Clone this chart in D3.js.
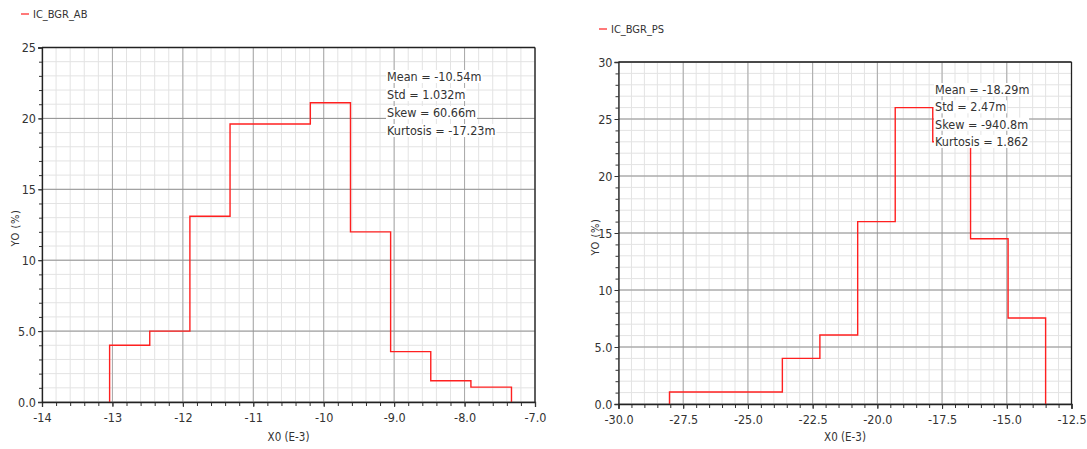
<!DOCTYPE html>
<html><head><meta charset="utf-8">
<script src="https://cdn.jsdelivr.net/npm/d3@7"></script>
<style>
body{margin:0;background:#fff;}
svg text{font-family:"DejaVu Sans Condensed","DejaVu Sans",sans-serif;fill:#333;}
</style></head>
<body><svg id="c" width="1087" height="449"></svg>
<script>
// ---- data ----
const abEdges = [-13.04, -12.47, -11.90, -11.33, -10.76, -10.19, -9.62, -9.05, -8.48, -7.91, -7.334];
const abValues = [4.0, 5.0, 13.1, 19.6, 19.6, 21.1, 12.0, 3.55, 1.5, 1.05];
const abXTicks = [-14, -13, -12, -11, -10, -9, -8, -7];
const abXLabels = ["-14", "-13", "-12", "-11", "-10", "-9.0", "-8.0", "-7.0"];
const abYTicks = [0, 5, 10, 15, 20, 25];
const abYLabels = ["0.0", "5.0", "10", "15", "20", "25"];
const abStats = ["Mean = -10.54m", "Std = 1.032m", "Skew = 60.66m", "Kurtosis = -17.23m"];

const psEdges = [-28.03, -26.58, -25.12, -23.67, -22.22, -20.76, -19.31, -17.86, -16.40, -14.95, -13.50];
const psValues = [1.05, 1.05, 1.05, 4.0, 6.05, 16.0, 26.0, 23.0, 14.5, 7.55];
const psXTicks = [-30, -27.5, -25, -22.5, -20, -17.5, -15, -12.5];
const psXLabels = ["-30.0", "-27.5", "-25.0", "-22.5", "-20.0", "-17.5", "-15.0", "-12.5"];
const psYTicks = [0, 5, 10, 15, 20, 25, 30];
const psYLabels = ["0.0", "5.0", "10", "15", "20", "25", "30"];
const psStats = ["Mean = -18.29m", "Std = 2.47m", "Skew = -940.8m", "Kurtosis = 1.862"];

const svg = d3.select("#c");

function drawChart(cfg) {
  const g = svg.append("g");
  const x = d3.scaleLinear().domain(cfg.xDomain).range([cfg.left, cfg.right]);
  const y = d3.scaleLinear().domain(cfg.yDomain).range([cfg.bottom, cfg.top]);

  // minor grid
  const xMinor = d3.range(cfg.xDomain[0], cfg.xDomain[1] + 1e-9, cfg.xMinorStep);
  const yMinor = d3.range(cfg.yDomain[0], cfg.yDomain[1] + 1e-9, cfg.yMinorStep);
  g.selectAll(".vmin").data(xMinor).join("line")
    .attr("x1", d => x(d)).attr("x2", d => x(d)).attr("y1", cfg.top).attr("y2", cfg.bottom)
    .attr("stroke", "#e3e3e3").attr("stroke-width", 1);
  g.selectAll(".hmin").data(yMinor).join("line")
    .attr("y1", d => y(d)).attr("y2", d => y(d)).attr("x1", cfg.left).attr("x2", cfg.right)
    .attr("stroke", "#e3e3e3").attr("stroke-width", 1);
  // major grid
  g.selectAll(".vmaj").data(cfg.xTicks).join("line")
    .attr("x1", d => x(d)).attr("x2", d => x(d)).attr("y1", cfg.top).attr("y2", cfg.bottom)
    .attr("stroke", "#a8a8a8").attr("stroke-width", 1);
  g.selectAll(".hmaj").data(cfg.yTicks).join("line")
    .attr("y1", d => y(d)).attr("y2", d => y(d)).attr("x1", cfg.left).attr("x2", cfg.right)
    .attr("stroke", "#909090").attr("stroke-width", 1);

  // border top/right
  g.append("line").attr("x1", cfg.left).attr("x2", cfg.right).attr("y1", cfg.top).attr("y2", cfg.top)
    .attr("stroke", "#222").attr("stroke-width", 1.3);
  g.append("line").attr("x1", cfg.right).attr("x2", cfg.right).attr("y1", cfg.top).attr("y2", cfg.bottom)
    .attr("stroke", "#222").attr("stroke-width", 1.3);

  // step line
  const pts = [[cfg.edges[0], 0]];
  cfg.values.forEach((v, i) => { pts.push([cfg.edges[i], v]); pts.push([cfg.edges[i + 1], v]); });
  pts.push([cfg.edges[cfg.edges.length - 1], 0]);
  g.append("path").attr("d", d3.line().x(d => x(d[0])).y(d => y(d[1]))(pts))
    .attr("fill", "none").attr("stroke", "#ff2020").attr("stroke-width", 1.4);

  // axes
  const xAxisMinor = d3.axisBottom(x).tickValues(xMinor).tickSize(4).tickFormat("");
  g.append("g").attr("transform", `translate(0,${cfg.bottom})`).call(xAxisMinor)
    .call(s => s.select(".domain").remove()).selectAll("line").attr("stroke", "#333");
  const xAxis = d3.axisBottom(x).tickValues(cfg.xTicks).tickSize(5).tickPadding(6)
    .tickFormat((d, i) => cfg.xLabels[i]);
  const xa = g.append("g").attr("transform", `translate(0,${cfg.bottom})`).call(xAxis);
  xa.select(".domain").attr("stroke", "#222").attr("stroke-width", 1.3);
  xa.selectAll("line").attr("stroke", "#333");
  xa.selectAll("text").attr("font-size", 12.5).attr("fill", "#333").style("font-family", "DejaVu Sans Condensed");

  const yAxisMinor = d3.axisLeft(y).tickValues(yMinor).tickSize(3).tickFormat("");
  g.append("g").attr("transform", `translate(${cfg.left},0)`).call(yAxisMinor)
    .call(s => s.select(".domain").remove()).selectAll("line").attr("stroke", "#333");
  const yAxis = d3.axisLeft(y).tickValues(cfg.yTicks).tickSize(4).tickPadding(2)
    .tickFormat((d, i) => cfg.yLabels[i]);
  const ya = g.append("g").attr("transform", `translate(${cfg.left},0)`).call(yAxis);
  ya.select(".domain").attr("stroke", "#222").attr("stroke-width", 1.3);
  ya.selectAll("line").attr("stroke", "#333");
  ya.selectAll("text").attr("font-size", 12.5).attr("fill", "#333").style("font-family", "DejaVu Sans Condensed");

  // axis titles
  g.append("text").attr("x", (cfg.left + cfg.right) / 2).attr("y", 441)
    .attr("text-anchor", "middle").attr("font-size", 11.5).text("X0 (E-3)");
  g.append("text").attr("transform", `translate(${cfg.yLabX},${cfg.yLabY}) rotate(-90)`)
    .attr("text-anchor", "middle").attr("font-size", 11).attr("letter-spacing", 0.6).text("YO (%)");

  // legend
  g.append("line").attr("x1", cfg.legX).attr("x2", cfg.legX + 8).attr("y1", cfg.legY).attr("y2", cfg.legY)
    .attr("stroke", "#ff2020").attr("stroke-width", 1.2);
  g.append("text").attr("x", cfg.legX + 12).attr("y", cfg.legY + 4).attr("font-size", 11).text(cfg.name);

  // stats
  cfg.stats.forEach((s, i) => {
    const yy = cfg.statY + i * cfg.statDy;
    const t = g.append("text").attr("x", cfg.statX).attr("y", yy).attr("font-size", 12.5).text(s);
    const bb = t.node().getBBox();
    g.insert("rect", () => t.node()).attr("x", bb.x - 1).attr("y", bb.y + 1).attr("width", bb.width + 2)
      .attr("height", bb.height - 2).attr("fill", "#fff");
  });
}

drawChart({
  name: "IC_BGR_AB", xDomain: [-14, -7], yDomain: [0, 25], left: 42, right: 535, top: 47.5, bottom: 402,
  xMinorStep: 0.2, yMinorStep: 1, xTicks: abXTicks, xLabels: abXLabels, yTicks: abYTicks, yLabels: abYLabels,
  edges: abEdges, values: abValues, stats: abStats, statX: 387, statY: 81, statDy: 18,
  legX: 21, legY: 14, yLabX: 19, yLabY: 228
});
drawChart({
  name: "IC_BGR_PS", xDomain: [-30, -12.5], yDomain: [0, 30], left: 618.5, right: 1071.5, top: 62, bottom: 404,
  xMinorStep: 0.5, yMinorStep: 1, xTicks: psXTicks, xLabels: psXLabels, yTicks: psYTicks, yLabels: psYLabels,
  edges: psEdges, values: psValues, stats: psStats, statX: 935, statY: 94, statDy: 17.3,
  legX: 599, legY: 29, yLabX: 599, yLabY: 237
});
</script></body></html>
